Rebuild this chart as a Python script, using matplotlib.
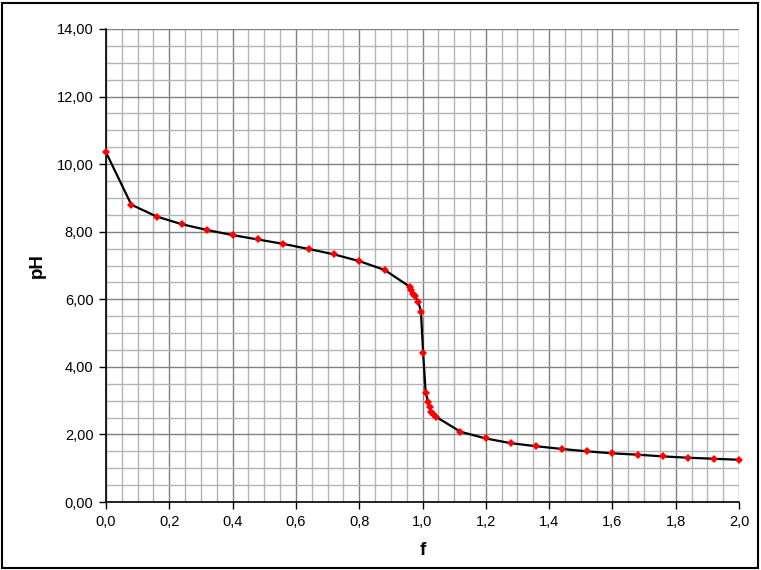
import matplotlib.pyplot as plt
import numpy as np
from matplotlib.patches import Rectangle
from matplotlib.ticker import FuncFormatter, MultipleLocator

f_vals = [0.00, 0.08, 0.16, 0.24, 0.32, 0.40, 0.48, 0.56, 0.64, 0.72, 0.80, 0.88,
          0.96, 0.965, 0.97, 0.976, 0.987, 0.995, 1.002, 1.010, 1.018, 1.023,
          1.028, 1.034, 1.043, 1.12, 1.20, 1.28, 1.36, 1.44, 1.52, 1.60, 1.68,
          1.76, 1.84, 1.92, 2.00]
ph_vals = [10.35, 8.80, 8.45, 8.22, 8.05, 7.90, 7.77, 7.64, 7.49, 7.33, 7.13, 6.87,
           6.37, 6.27, 6.17, 6.09, 5.93, 5.63, 4.42, 3.24, 2.95, 2.80,
           2.67, 2.59, 2.52, 2.08, 1.88, 1.74, 1.65, 1.57, 1.50, 1.44, 1.40,
           1.35, 1.31, 1.28, 1.25]

plt.rcParams["font.family"] = ["Liberation Sans", "DejaVu Sans"]

fig = plt.figure(figsize=(7.61, 5.70), dpi=100)
ax = fig.add_axes([106 / 761, 68 / 570, 633 / 761, 473 / 570])

ax.plot(f_vals, ph_vals, color="black", linewidth=1.6, zorder=3, clip_on=False)
ax.plot(f_vals, ph_vals, linestyle="none", marker="D", markersize=4.2,
        color="#ff0000", markeredgewidth=0, zorder=4, clip_on=False)

ax.set_xlim(0, 2.0)
ax.set_ylim(0, 14)
ax.xaxis.set_major_locator(MultipleLocator(0.2))
ax.xaxis.set_minor_locator(MultipleLocator(0.05))
ax.yaxis.set_major_locator(MultipleLocator(2))
ax.yaxis.set_minor_locator(MultipleLocator(0.5))
ax.xaxis.set_major_formatter(FuncFormatter(lambda v, p: f"{v:.1f}".replace(".", ",")))
ax.yaxis.set_major_formatter(FuncFormatter(lambda v, p: f"{v:.2f}".replace(".", ",")))

ax.grid(which="minor", color="#b4b4b4", linewidth=1.0)
ax.grid(which="major", color="#808080", linewidth=1.0)
ax.set_axisbelow(True)
ax.tick_params(which="minor", length=0)
ax.tick_params(which="major", direction="out", length=5, width=1,
               labelsize=10.5, pad=4)

for side in ("top", "right"):
    ax.spines[side].set_visible(False)
for side in ("left", "bottom"):
    ax.spines[side].set_linewidth(1.2)

ax.set_xlabel("f", fontsize=13.5, fontweight="bold", labelpad=10)
ax.set_ylabel("pH", fontsize=13.5, fontweight="bold", labelpad=8)

fig.patches.append(Rectangle((2 / 761, 2 / 570), 756 / 761, 565 / 570,
                             transform=fig.transFigure, fill=False,
                             edgecolor="black", linewidth=1.5))

fig.savefig("out.png", dpi=100)
